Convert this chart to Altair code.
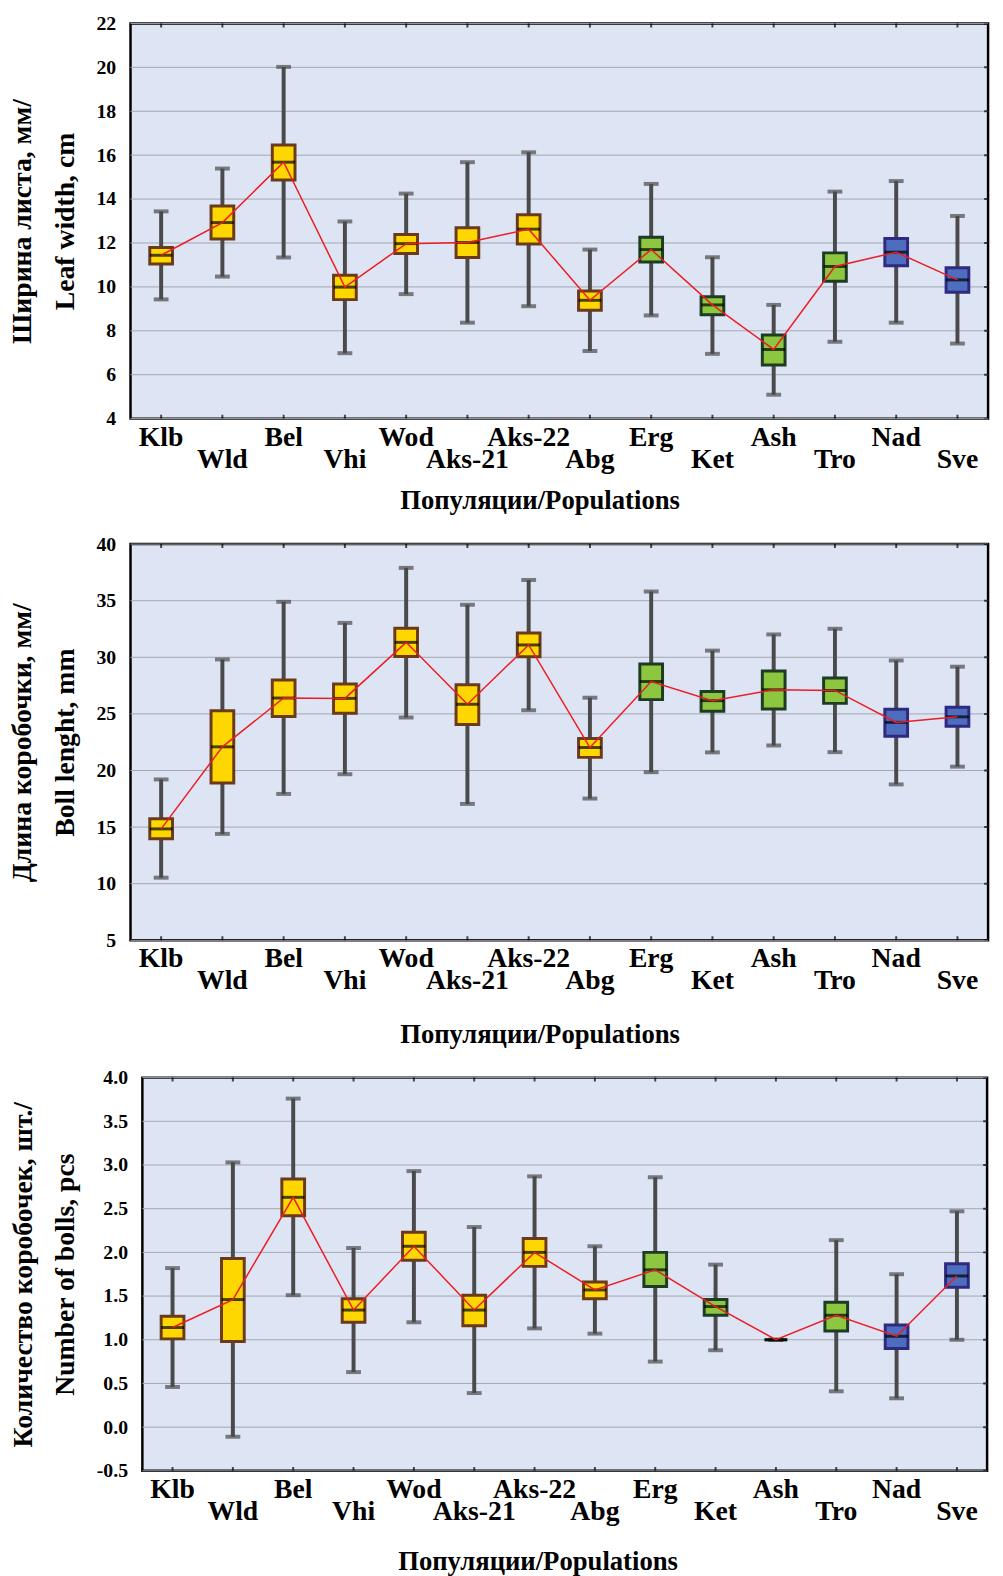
import json
import altair as alt
import pandas as pd

# ---------------- data ----------------
cats = ["Klb", "Wld", "Bel", "Vhi", "Wod", "Aks-21", "Aks-22", "Abg",
        "Erg", "Ket", "Ash", "Tro", "Nad", "Sve"]
groups = ["A"] * 8 + ["B"] * 4 + ["C"] * 2

# Leaf width
leaf_min = [9.43, 10.47, 11.34, 6.98, 9.67, 8.37, 9.12, 7.08, 8.70, 6.95, 5.09, 7.50, 8.37, 7.42]
leaf_q1 = [11.04, 12.18, 14.87, 9.42, 11.52, 11.34, 11.95, 8.94, 11.13, 8.73, 6.44, 10.26, 10.96, 9.76]
leaf_med = [11.44, 12.93, 15.68, 9.99, 11.97, 12.02, 12.63, 9.39, 11.70, 9.18, 7.15, 10.93, 11.58, 10.32]
leaf_q3 = [11.79, 13.68, 16.46, 10.53, 12.39, 12.69, 13.29, 9.81, 12.26, 9.55, 7.81, 11.55, 12.20, 10.87]
leaf_max = [13.44, 15.39, 20.02, 12.98, 14.25, 15.68, 16.13, 11.70, 14.69, 11.35, 9.18, 14.34, 14.82, 13.23]

# Boll length
boll_min = [10.53, 14.40, 17.93, 19.67, 24.68, 17.05, 25.32, 17.52, 19.85, 21.60, 22.21, 21.62, 18.77, 20.34]
boll_q1 = [13.97, 18.89, 24.77, 25.06, 30.07, 24.07, 30.04, 21.16, 26.26, 25.24, 25.44, 25.93, 23.02, 23.90]
boll_med = [14.84, 22.09, 26.40, 26.37, 31.32, 25.85, 31.09, 22.03, 27.86, 26.17, 27.13, 27.07, 24.25, 24.74]
boll_q3 = [15.74, 25.27, 28.00, 27.65, 32.57, 27.57, 32.14, 22.82, 29.40, 26.98, 28.79, 28.18, 25.41, 25.59]
boll_max = [19.21, 29.81, 34.90, 33.04, 37.90, 34.64, 36.83, 26.43, 35.81, 30.59, 32.02, 32.52, 29.72, 29.17]

# Number of bolls
num_min = [0.46, -0.11, 1.51, 0.63, 1.20, 0.39, 1.13, 1.07, 0.75, 0.88, 1.00, 0.41, 0.33, 1.00]
num_q1 = [1.01, 0.98, 2.42, 1.20, 1.91, 1.16, 1.84, 1.47, 1.61, 1.28, 1.00, 1.10, 0.90, 1.60]
num_med = [1.14, 1.46, 2.63, 1.34, 2.07, 1.34, 2.00, 1.57, 1.80, 1.38, 1.00, 1.28, 1.04, 1.73]
num_q3 = [1.27, 1.93, 2.84, 1.47, 2.23, 1.51, 2.16, 1.66, 2.00, 1.46, 1.00, 1.43, 1.17, 1.87]
num_max = [1.82, 3.03, 3.76, 2.05, 2.93, 2.29, 2.87, 2.07, 2.86, 1.86, 1.00, 2.14, 1.75, 2.47]

leaf_ticks = [4, 6, 8, 10, 12, 14, 16, 18, 20, 22]
boll_ticks = [5, 10, 15, 20, 25, 30, 35, 40]
num_ticks = [-0.5, 0.0, 0.5, 1.0, 1.5, 2.0, 2.5, 3.0, 3.5, 4.0]

x_title = "Популяции/Populations"
leaf_title = ["Ширина листа, мм/", "Leaf width, cm"]
boll_title = ["Длина коробочки, мм/", "Boll lenght, mm"]
num_title = ["Количество коробочек, шт./", "Number of bolls, pcs"]

# ---------------- style ----------------
FONT = "Liberation Serif"
BG = "#dde4f4"
GRID = "#a3a7b0"
fill_scale = alt.Scale(domain=["A", "B", "C"], range=["#FFD700", "#8DC63F", "#4F6DBF"])
stroke_scale = alt.Scale(domain=["A", "B", "C"], range=["#6B3A1A", "#1E3B24", "#2F2A80"])
WHISKER = "#4a4a4a"

label_expr = ("indexof(" + json.dumps(cats) +
              ", datum.value) % 2 == 1 ? ['', datum.label] : datum.label")


def make_panel(mins, q1, med, q3, maxs, ytitle, ticks, fmt, width, height,
               title_x, title_pad, shift, label_pad):
    dom = [min(ticks), max(ticks)]
    df = pd.DataFrame({"cat": cats, "grp": groups, "lo": mins, "q1": q1,
                       "med": med, "q3": q3, "hi": maxs,
                       "ytop": [dom[1]] * len(cats), "ybot": [dom[0]] * len(cats)})
    tdf = pd.DataFrame({"t": ticks})
    one = pd.DataFrame({"k": [0]})
    x = alt.X("cat:N", sort=cats,
              scale=alt.Scale(paddingInner=0, paddingOuter=0, range=[shift, width]),
              axis=alt.Axis(title=x_title, labelExpr=label_expr,
                            labelAngle=0, labelFont=FONT, labelFontWeight="bold",
                            labelFontSize=28, labelLineHeight=22, labelColor="black",
                            labelPadding=5, labelOverlap=False, ticks=False,
                            domain=False, grid=False,
                            titleFont=FONT, titleFontWeight="bold", titleFontSize=27,
                            titleColor="black", titlePadding=title_pad, titleX=title_x))
    yscale = alt.Scale(domain=dom, nice=False, zero=False)
    yaxis = alt.Axis(title=ytitle, values=ticks, format=fmt,
                     labelExpr="replace(datum.label, '\u2212', '-')",
                     labelFont=FONT,
                     labelFontWeight="bold", labelFontSize=20, labelColor="black",
                     labelPadding=label_pad, ticks=False, domain=False, grid=False,
                     titleFont=FONT, titleFontWeight="bold", titleFontSize=28,
                     titleColor="black", titleLineHeight=43, titlePadding=17)
    # plot background and frame
    bg = alt.Chart(one).mark_rect(fill=BG, stroke="black", strokeWidth=2.5).encode(
        x=alt.value(shift), x2=alt.value(width), y=alt.value(0), y2=alt.value(height))
    grid = alt.Chart(tdf).mark_rule(color=GRID, strokeWidth=1).encode(
        x=alt.value(shift), x2=alt.value(width),
        y=alt.Y("t:Q", scale=yscale, axis=yaxis))
    base = alt.Chart(df).encode(x=x)
    whisk = base.mark_rule(color=WHISKER, strokeWidth=4).encode(
        y=alt.Y("lo:Q", scale=yscale), y2="hi:Q")
    cap_lo = base.mark_tick(color=WHISKER, thickness=4, size=15).encode(
        y=alt.Y("lo:Q", scale=yscale))
    cap_hi = base.mark_tick(color=WHISKER, thickness=4, size=15).encode(
        y=alt.Y("hi:Q", scale=yscale))
    box = base.mark_bar(size=23, strokeWidth=3).encode(
        y=alt.Y("q1:Q", scale=yscale), y2="q3:Q",
        fill=alt.Fill("grp:N", scale=fill_scale, legend=None),
        stroke=alt.Stroke("grp:N", scale=stroke_scale, legend=None))
    median = base.mark_tick(color="black", thickness=3, size=23).encode(
        y=alt.Y("med:Q", scale=yscale))
    line = base.mark_line(color="#ee1c25", strokeWidth=1.5).encode(
        y=alt.Y("med:Q", scale=yscale))
    # small inward frame ticks
    tk_top = base.mark_tick(color="black", orient="vertical", size=8, thickness=2,
                            clip=True).encode(y=alt.Y("ytop:Q", scale=yscale))
    tk_bot = base.mark_tick(color="black", orient="vertical", size=8, thickness=2,
                            clip=True).encode(y=alt.Y("ybot:Q", scale=yscale))
    tk_right = alt.Chart(tdf).mark_tick(color="black", orient="horizontal", size=8,
                                        thickness=2, clip=True).encode(
        x=alt.value(width), y=alt.Y("t:Q", scale=yscale))
    layered = alt.layer(bg, grid, whisk, cap_lo, cap_hi, box, median, line,
                        tk_top, tk_bot, tk_right).properties(width=width, height=height)
    return alt.hconcat(layered)


c1 = make_panel(leaf_min, leaf_q1, leaf_med, leaf_q3, leaf_max, leaf_title,
                leaf_ticks, "d", 868, 400, 414, 15, 0, 15)
c2 = make_panel(boll_min, boll_q1, boll_med, boll_q3, boll_max, boll_title,
                boll_ticks, "d", 868, 401, 414, 27, 0, 15)
c3 = make_panel(num_min, num_q1, num_med, num_q3, num_max, num_title,
                num_ticks, ".1f", 867, 398, 412, 24, 12, 3)

chart = alt.vconcat(c1, c2, c3, spacing=19).configure_view(
    fill="transparent", stroke="transparent").properties(
    background="white", padding={"left": 0, "top": -5, "right": 5, "bottom": 5})

chart.save("out.html", embed_options={"renderer": "svg", "actions": False})
